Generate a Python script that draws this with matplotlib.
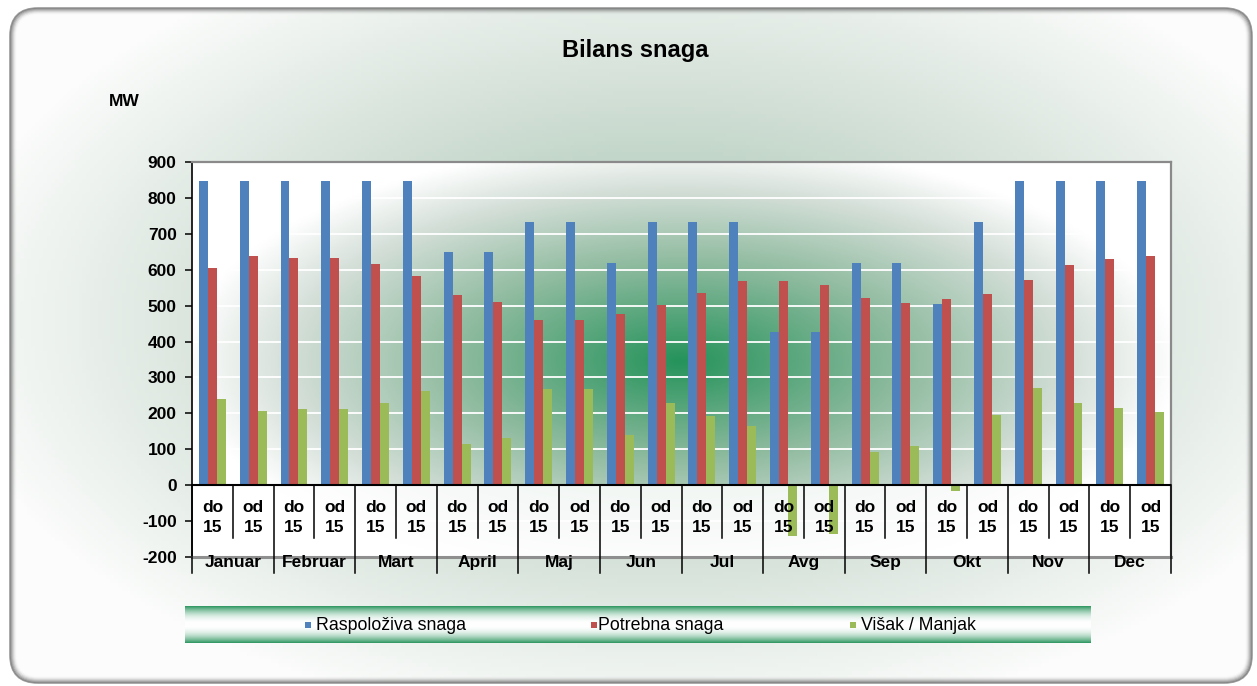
import numpy as np
import matplotlib
matplotlib.use("Agg")
import matplotlib.pyplot as plt
from matplotlib.patches import FancyBboxPatch, Rectangle
from matplotlib.colors import LinearSegmentedColormap

plt.rcParams["font.family"] = ["Liberation Sans", "DejaVu Sans"]
plt.rcParams["axes.unicode_minus"] = False

# ---- data (MW), two half-month periods per month ----
months = ["Januar", "Februar", "Mart", "April", "Maj", "Jun",
          "Jul", "Avg", "Sep", "Okt", "Nov", "Dec"]
halves = ["do\n15", "od\n15"]
raspoloziva = [848, 848, 848, 848, 848, 848, 648, 648, 733, 733, 618, 733,
               733, 733, 426, 426, 618, 618, 504, 733, 848, 848, 848, 848]
potrebna = [604, 637, 633, 633, 615, 583, 529, 511, 461, 461, 476, 501,
            536, 568, 568, 558, 522, 507, 518, 533, 572, 614, 629, 639]
visak = [240, 207, 211, 211, 229, 261, 115, 132, 269, 269, 139, 229,
         193, 164, -142, -135, 93, 108, -17, 196, 272, 229, 215, 204]
series_names = ["Raspoloživa snaga", "Potrebna snaga", "Višak / Manjak"]
colors = ["#4F81BD", "#C0504D", "#9BBB59"]

W, H = 1257, 686
fig = plt.figure(figsize=(W / 100, H / 100), dpi=100)
fig.patch.set_facecolor("white")


def fx(px):
    return px / W


def fy(py):
    return 1 - py / H


# ---- chart background: rounded box with radial tint ----
bg = fig.add_axes([0, 0, 1, 1], zorder=0)
bg.set_xlim(0, W); bg.set_ylim(0, H); bg.axis("off")

box = FancyBboxPatch((10, 3), 1242, 675, boxstyle="round,pad=0,rounding_size=28",
                     facecolor="none", edgecolor="none")
bg.add_patch(box)
bg_cmap = LinearSegmentedColormap.from_list(
    "bgc", [(0, "#fbfcfb"), (0.5, "#cddcd2"), (1, "#96bea5")])
gx, gy = np.meshgrid(np.linspace(0, W, 320), np.linspace(0, H, 180))
d = np.sqrt(((gx - 660) / 720) ** 2 + ((gy - 365) / 410) ** 2)
im = bg.imshow(np.clip(1 - d, 0, 1), cmap=bg_cmap, vmin=0, vmax=1,
               extent=(0, W, H, 0), aspect="auto", zorder=0)
im.set_clip_path(box)

for i in range(7):
    a = 0.6 * (1 - i / 7) ** 2
    bg.add_patch(FancyBboxPatch((10 + i, 3 + i), 1242 - 2 * i, 675 - 2 * i,
                                boxstyle="round,pad=0,rounding_size=%g" % (28 - i),
                                facecolor="none", edgecolor=(0.35, 0.35, 0.35, a), lw=1.2))

# ---- plot area ----
L, R, T, B = 192, 1171, 162, 557
ax = fig.add_axes([fx(L), fy(B), (R - L) / W, (B - T) / H], zorder=1)
ax.set_facecolor("none")

plot_cmap = LinearSegmentedColormap.from_list(
    "plc", [(0, "#ffffff"), (0.22, "#d3ded7"), (0.55, "#8fbb9f"), (1, "#25935b")])
px, py = np.meshgrid(np.linspace(L, R, 400), np.linspace(T, B, 200))
d = np.sqrt(((px - 680) / 500) ** 2 + ((py - 358) / 220) ** 2)
ax.imshow(np.clip(1 - d, 0, 1), cmap=plot_cmap, vmin=0, vmax=1,
          extent=(0, 24, 900, -200), aspect="auto", zorder=0)
ax.set_xlim(0, 24)
ax.set_ylim(-200, 900)
ax.axhspan(-200, 0, color="white", alpha=0.85, zorder=0.5, lw=0)

ax.set_yticks(range(-200, 1000, 100))
ax.grid(axis="y", color="white", lw=1.3, zorder=1)
ax.set_axisbelow(True)

x = np.arange(len(raspoloziva)) + 0.5
bw = 0.22
for k, (vals, c) in enumerate(zip([raspoloziva, potrebna, visak], colors)):
    ax.bar(x + (k - 1) * bw, vals, width=bw, color=c, lw=0, zorder=3)

ax.axhline(0, color="black", lw=1.5, zorder=4)

# category table under the zero line
for k in range(25):
    ybot = -245 if k % 2 == 0 else -148
    ax.plot([k, k], [0, ybot], color="black", lw=1.1, clip_on=False, zorder=4)
for i, xc in enumerate(x):
    ax.text(xc, -90, halves[i % 2], ha="center", va="center", fontsize=12.5,
            fontweight="bold", linespacing=1.4, zorder=5)
for m, name in enumerate(months):
    ax.text(2 * m + 1, -214, name, ha="center", va="center", fontsize=12.5,
            fontweight="bold", zorder=5, clip_on=False)

ax.set_xticks([])
ax.tick_params(axis="y", direction="out", length=5, width=1.1, color="black",
               labelsize=12.5, pad=6)
for lab in ax.get_yticklabels():
    lab.set_fontweight("bold")
ax.spines["left"].set_color("black")
ax.spines["left"].set_linewidth(1.2)
for s in ["top", "right"]:
    ax.spines[s].set_color("#8a8a8a")
    ax.spines[s].set_linewidth(1.6)
ax.spines["bottom"].set_color("#8f8f8f")
ax.spines["bottom"].set_linewidth(2.2)

# ---- titles ----
fig.text(fx(635), fy(50), "Bilans snaga", ha="center", va="center",
         fontsize=17, fontweight="bold")
fig.text(fx(124), fy(101), "MW", ha="center", va="center",
         fontsize=12.5, fontweight="bold")

# ---- legend band ----
LL, LR, LT, LB = 185, 1091, 606, 643
lax = fig.add_axes([fx(LL), fy(LB), (LR - LL) / W, (LB - LT) / H], zorder=2)
lax.axis("off")
white = np.array([1.0, 1.0, 1.0])
tv = np.linspace(0, 1, 60)
w = np.clip(np.abs(tv - 0.5) * 2, 0, 1) ** 2.2
band_green = np.array([48, 152, 98]) / 255
band = white[None, :] * (1 - w[:, None]) + band_green[None, :] * w[:, None]
band = np.repeat(band[:, None, :], 10, axis=1)
lax.imshow(band, extent=(0, 1, 0, 1), aspect="auto")
lax.set_xlim(0, 1); lax.set_ylim(0, 1)

for name, c, sx, tx in zip(series_names, colors, [305, 591, 850], [316, 598, 861]):
    fig.patches.append(Rectangle((fx(sx), fy(628)), 6 / W, 6 / H, transform=fig.transFigure,
                                 facecolor=c, edgecolor="none", zorder=3))
    fig.text(fx(tx), fy(625), name, ha="left", va="center", fontsize=12.8, zorder=3)

fig.savefig("out.png", dpi=100)
